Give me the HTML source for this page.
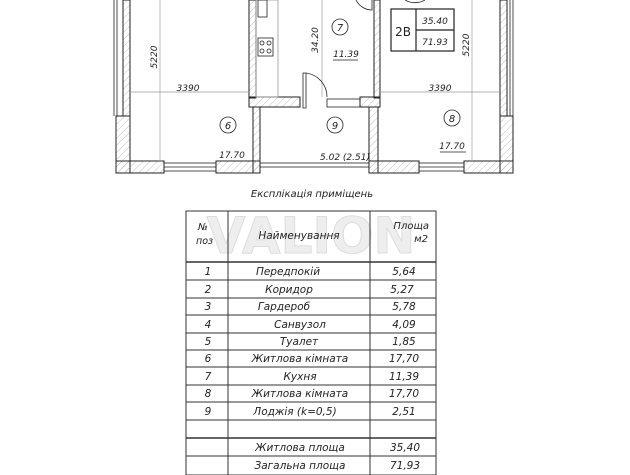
<!DOCTYPE html>
<html><head><meta charset="utf-8"><style>
body{margin:0;background:#fff;width:630px;height:475px;overflow:hidden}
svg{display:block}
text{font-family:"DejaVu Sans","Liberation Sans",sans-serif;font-style:italic;fill:#222}
</style></head><body>
<svg width="630" height="475" viewBox="0 0 630 475">
<defs>
<pattern id="h" width="5" height="5" patternUnits="userSpaceOnUse" patternTransform="rotate(45)">
<line x1="0" y1="0" x2="0" y2="5" stroke="#999" stroke-width="0.6"/></pattern>
</defs>
<g stroke="#222" stroke-width="1" fill="url(#h)">
<rect x="123" y="0" width="7" height="116"/>
<rect x="116" y="116" width="14" height="57"/>
<rect x="116" y="161" width="48" height="12"/>
<rect x="216" y="161" width="44" height="12"/>
<rect x="249" y="0" width="7" height="98"/>
<rect x="249" y="97" width="51" height="10"/>
<rect x="253" y="107" width="7" height="66"/>
<rect x="374" y="0" width="6" height="98"/>
<rect x="360" y="97" width="20" height="10"/>
<rect x="369" y="107" width="9" height="66"/>
<rect x="369" y="161" width="50" height="12"/>
<rect x="464" y="161" width="49" height="12"/>
<rect x="500" y="0" width="7" height="116"/>
<rect x="500" y="116" width="13" height="57"/>
</g>
<g stroke="#222" fill="none" stroke-width="0.8">
<rect x="164" y="163" width="52" height="8"/>
<line x1="164" y1="167" x2="216" y2="167"/>
<rect x="260" y="163" width="109" height="4"/>
<rect x="419" y="163" width="45" height="8"/>
<line x1="419" y1="167" x2="464" y2="167"/>
<line x1="114" y1="0" x2="114" y2="116"/><line x1="117" y1="0" x2="117" y2="116"/>
<line x1="510" y1="0" x2="510" y2="116"/><line x1="513" y1="0" x2="513" y2="116"/>
<rect x="256" y="0" width="22" height="97" stroke="#999"/>
<rect x="258" y="38" width="15" height="18"/>
<circle cx="262" cy="43" r="2"/><circle cx="269" cy="43" r="2"/><circle cx="262" cy="51" r="2"/><circle cx="269" cy="51" r="2"/>
<rect x="258" y="0" width="9" height="17"/>
<line x1="322" y1="0" x2="322" y2="97" stroke="#aaa"/>
<path d="M303 73 L306 73 L306 108 L303 108 Z"/>
<path d="M306 73 A24 24 0 0 1 327 97"/>
<rect x="327" y="99" width="33" height="8"/>
<path d="M356 0 A18 18 0 0 0 372 10 L372 0"/>
<path d="M405 0 A20 20 0 0 0 425 0"/>
<line x1="130" y1="92" x2="249" y2="92" stroke="#999"/>
<line x1="160" y1="0" x2="160" y2="161" stroke="#aaa"/>
<line x1="380" y1="92" x2="500" y2="92" stroke="#999"/>
<line x1="472" y1="0" x2="472" y2="161" stroke="#aaa"/>
<circle cx="228" cy="125" r="8"/>
<circle cx="340" cy="27" r="8"/>
<circle cx="335" cy="125" r="8"/>
<circle cx="452" cy="118" r="8"/>
<line x1="333" y1="60" x2="358" y2="60"/>
<line x1="440" y1="152" x2="466" y2="152"/>
<rect x="391" y="9" width="63" height="42" stroke-width="1.2"/>
<line x1="416" y1="9" x2="416" y2="51" stroke-width="1.2"/>
<line x1="416" y1="30" x2="454" y2="30" stroke-width="1.2"/>
</g>
<g font-size="10">
<text x="228" y="129" text-anchor="middle">6</text>
<text x="340" y="31" text-anchor="middle">7</text>
<text x="335" y="129" text-anchor="middle">9</text>
<text x="452" y="122" text-anchor="middle">8</text>
<text x="188" y="91" text-anchor="middle" font-size="9">3390</text>
<text x="440" y="91" text-anchor="middle" font-size="9">3390</text>
<text x="232" y="158" text-anchor="middle" font-size="9">17.70</text>
<text x="452" y="149" text-anchor="middle" font-size="9">17.70</text>
<text x="346" y="57" text-anchor="middle" font-size="9">11.39</text>
<text x="345" y="160" text-anchor="middle" font-size="9">5.02 (2.51)</text>
<text transform="translate(157,57) rotate(-90)" text-anchor="middle" font-size="9">5220</text>
<text transform="translate(469,45) rotate(-90)" text-anchor="middle" font-size="9">5220</text>
<text transform="translate(318,40) rotate(-90)" text-anchor="middle" font-size="9">34.20</text>
<text x="403" y="36" text-anchor="middle" font-size="12" style="font-style:normal">2В</text>
<text x="435" y="24" text-anchor="middle" font-size="9">35.40</text>
<text x="435" y="45" text-anchor="middle" font-size="9">71.93</text>
<text x="312" y="197" text-anchor="middle" font-size="10">Експлікація приміщень</text>
</g>
<text x="311" y="253" text-anchor="middle" font-size="50" style="font-style:normal;fill:#eee;stroke:#ddd;stroke-width:1" font-weight="bold">VALION</text>
<g stroke="#333" stroke-width="1" fill="none">
<rect x="186" y="211" width="250" height="264"/>
<line x1="228" y1="211" x2="228" y2="475"/>
<line x1="370" y1="211" x2="370" y2="475"/>
<line x1="186" y1="262" x2="436" y2="262" stroke-width="1.5"/>
<line x1="186" y1="280" x2="436" y2="280"/>
<line x1="186" y1="298" x2="436" y2="298"/>
<line x1="186" y1="315" x2="436" y2="315"/>
<line x1="186" y1="333" x2="436" y2="333"/>
<line x1="186" y1="350" x2="436" y2="350"/>
<line x1="186" y1="367" x2="436" y2="367"/>
<line x1="186" y1="385" x2="436" y2="385"/>
<line x1="186" y1="402" x2="436" y2="402"/>
<line x1="186" y1="420" x2="436" y2="420"/>
<line x1="186" y1="438" x2="436" y2="438" stroke-width="1.5"/>
<line x1="186" y1="456" x2="436" y2="456"/>
</g>
<g font-size="10.5">
<text x="198" y="230" font-size="9.5">№</text>
<text x="196" y="244" font-size="9.5">поз</text>
<text x="299" y="239" text-anchor="middle">Найменування</text>
<text x="429" y="229" text-anchor="end" font-size="10">Площа</text>
<text x="428" y="242" text-anchor="end" font-size="10">м2</text>
<g text-anchor="middle">
<text x="208" y="275">1</text><text x="208" y="293">2</text><text x="208" y="310">3</text><text x="208" y="328">4</text><text x="208" y="345">5</text><text x="208" y="362">6</text><text x="208" y="380">7</text><text x="208" y="397">8</text><text x="208" y="415">9</text>
<text x="288" y="275">Передпокій</text><text x="289" y="293">Коридор</text><text x="284" y="310">Гардероб</text><text x="300" y="328">Санвузол</text><text x="299" y="345">Туалет</text><text x="300" y="362">Житлова кімната</text><text x="300" y="380">Кухня</text><text x="300" y="397">Житлова кімната</text><text x="295" y="415">Лоджія (k=0,5)</text>
<text x="300" y="451">Житлова площа</text><text x="300" y="469">Загальна площа</text>
<text x="404" y="275">5,64</text><text x="402" y="293">5,27</text><text x="404" y="310">5,78</text><text x="404" y="328">4,09</text><text x="404" y="345">1,85</text><text x="404" y="362">17,70</text><text x="404" y="380">11,39</text><text x="404" y="397">17,70</text><text x="404" y="415">2,51</text><text x="405" y="451">35,40</text><text x="405" y="469">71,93</text>
</g></g>
</svg>
</body></html>
